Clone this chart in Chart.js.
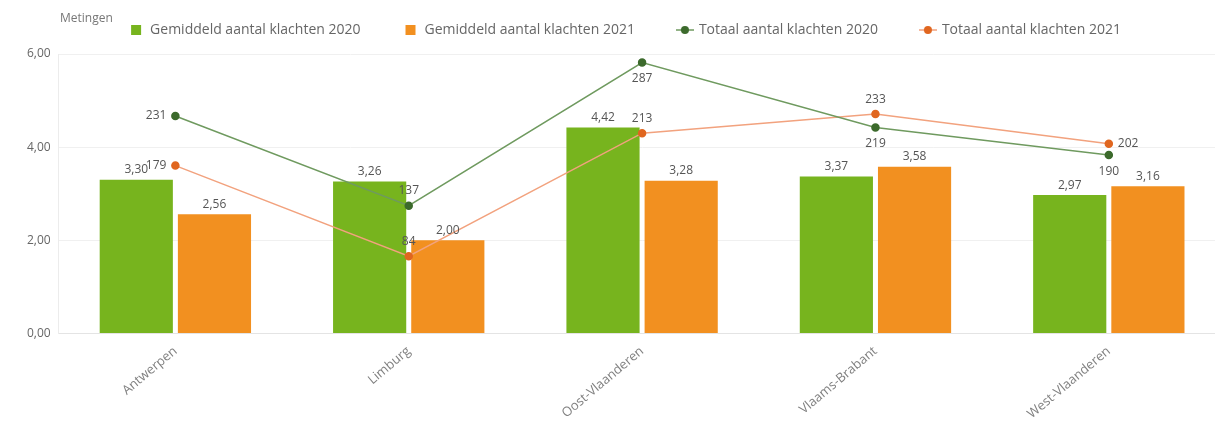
<!DOCTYPE html>
<html>
<head>
<meta charset="utf-8">
<script src="https://cdn.jsdelivr.net/npm/chart.js@4/dist/chart.umd.min.js"></script>
<style>
  html, body { margin: 0; padding: 0; background: #fff; overflow: hidden; }
  #wrap { position: relative; width: 1231px; height: 424px; }
  #legend-title { position: absolute; left: 60px; top: 9px; font: 12px "Open Sans", sans-serif; color: #777; }
</style>
</head>
<body>
<div id="wrap">
  <div id="legend-title">Metingen</div>
  <canvas id="chart"></canvas>
</div>
<script>
const provinces = ["Antwerpen", "Limburg", "Oost-Vlaanderen", "Vlaams-Brabant", "West-Vlaanderen"];
const avg2020 = [3.30, 3.26, 4.42, 3.37, 2.97];
const avg2021 = [2.56, 2.00, 3.28, 3.58, 3.16];
const total2020 = [231, 137, 287, 219, 190];
const total2021 = [179, 84, 213, 233, 202];
const yTicks = [0, 2, 4, 6];

// where each line label sits relative to its point
const labelPos2020 = ["left", "above", "below", "below", "below"];
const labelPos2021 = ["left", "above", "above", "above", "right"];

const fmt = v => v.toFixed(2).replace(".", ",");

// legend marker for the line series: short line with a dot
function lineMarker(lineColor, dotColor) {
    const c = document.createElement("canvas");
    c.width = 18; c.height = 10;
    const g = c.getContext("2d");
    g.strokeStyle = lineColor;
    g.lineWidth = 1.5;
    g.beginPath(); g.moveTo(0, 5); g.lineTo(18, 5); g.stroke();
    g.fillStyle = dotColor;
    g.beginPath(); g.arc(9, 5, 4, 0, Math.PI * 2); g.fill();
    return c;
}

// fixed legend box height so the plot starts where it should
const legendHeight = {
    id: "legendHeight",
    beforeInit(chart) {
        const fit = chart.legend.fit;
        chart.legend.fit = function () { fit.call(this); this.height = 74; };
    }
};

const valueLabels = {
    id: "valueLabels",
    afterDatasetsDraw(chart) {
        const ctx = chart.ctx;
        ctx.save();
        ctx.font = '12px "Open Sans"';
        ctx.fillStyle = "#555";
        chart.data.datasets.forEach((ds, i) => {
            const meta = chart.getDatasetMeta(i);
            meta.data.forEach((el, j) => {
                const v = ds.data[j];
                if (ds.type === "line") {
                    const pos = ds.labelPos[j];
                    let x = el.x, y = el.y;
                    ctx.textBaseline = "middle";
                    ctx.textAlign = "center";
                    if (pos === "left") { ctx.textAlign = "right"; x -= 9; }
                    else if (pos === "right") { ctx.textAlign = "left"; x += 9; }
                    else if (pos === "above") { y -= 15; }
                    else { y += 16; }
                    ctx.fillText(String(v), x, y);
                } else {
                    ctx.textAlign = "center";
                    ctx.textBaseline = "bottom";
                    ctx.fillText(fmt(v), el.x, el.y - 4);
                }
            });
        });
        ctx.restore();
    }
};

new Chart(document.getElementById("chart"), {
    data: {
        labels: provinces,
        datasets: [
            {
                type: "bar", label: "Gemiddeld aantal klachten 2020", data: avg2020,
                backgroundColor: "#77b41e", yAxisID: "y", order: 1, pointStyle: "rect",
                barPercentage: 0.936, categoryPercentage: 0.67
            },
            {
                type: "bar", label: "Gemiddeld aantal klachten 2021", data: avg2021,
                backgroundColor: "#f29020", yAxisID: "y", order: 1, pointStyle: "rect",
                barPercentage: 0.936, categoryPercentage: 0.67
            },
            {
                type: "line", label: "Totaal aantal klachten 2020", data: total2020,
                borderColor: "#6f9a5f", borderWidth: 1.5, pointBackgroundColor: "#3c6a2c",
                pointBorderColor: "#3c6a2c", pointRadius: 3.5, yAxisID: "y1", order: 0,
                labelPos: labelPos2020
            },
            {
                type: "line", label: "Totaal aantal klachten 2021", data: total2021,
                borderColor: "#f2a27e", borderWidth: 1.5, pointBackgroundColor: "#e0661f",
                pointBorderColor: "#e0661f", pointRadius: 3.5, yAxisID: "y1", order: 0,
                labelPos: labelPos2021
            }
        ]
    },
    options: {
        responsive: true,
        maintainAspectRatio: false,
        animation: false,
        layout: { padding: { top: -20, left: 19, right: 0, bottom: 0 } },
        plugins: {
            tooltip: { enabled: false },
            legend: {
                position: "top",
                labels: {
                    usePointStyle: true,
                    boxWidth: 14, boxHeight: 10,
                    padding: 43,
                    color: "#666",
                    font: { family: "Open Sans", size: 14 },
                    sort: (a, b) => a.datasetIndex - b.datasetIndex,
                    generateLabels(chart) {
                        const items = Chart.defaults.plugins.legend.labels.generateLabels(chart);
                        items.forEach(it => {
                            const ds = chart.data.datasets[it.datasetIndex];
                            if (ds.type === "line") it.pointStyle = lineMarker(ds.borderColor, ds.pointBackgroundColor);
                            else it.pointStyle = "rect";
                        });
                        return items;
                    }
                }
            }
        },
        scales: {
            x: {
                grid: { display: false },
                border: { color: "#e4e4e4" },
                ticks: {
                    color: "#808080", font: { family: "Open Sans", size: 13 },
                    minRotation: 40, maxRotation: 40, padding: 2
                }
            },
            y: {
                min: 0, max: 6,
                afterBuildTicks: axis => { axis.ticks = yTicks.map(v => ({ value: v })); },
                grid: { color: "#f0f0f0", drawTicks: false },
                border: { color: "#ececec" },
                ticks: {
                    color: "#666", font: { family: "Open Sans", size: 12 }, padding: 8,
                    callback: v => fmt(v)
                }
            },
            y1: {
                display: false, min: 3, max: 296, position: "right",
                grid: { display: false }
            }
        }
    },
    plugins: [legendHeight, valueLabels]
});
</script>
</body>
</html>
